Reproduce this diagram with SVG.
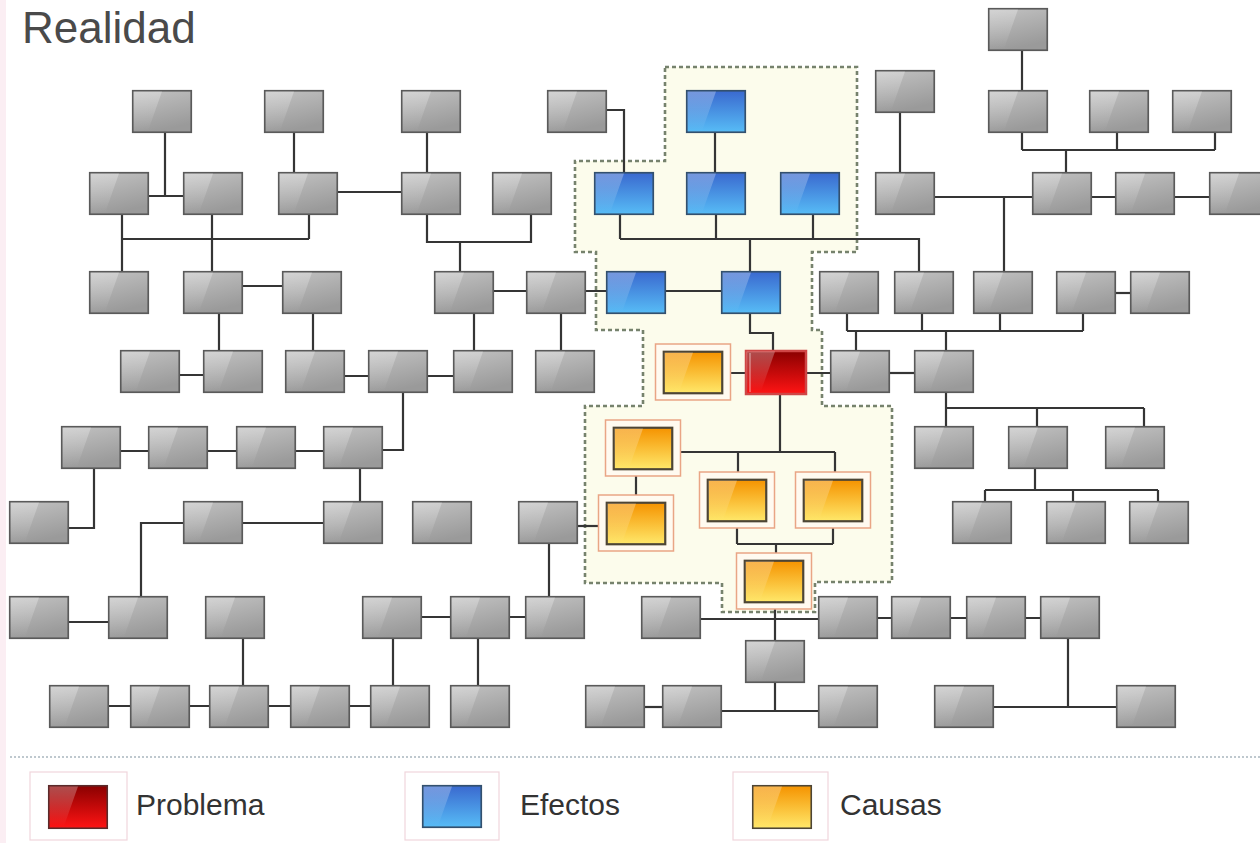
<svg xmlns="http://www.w3.org/2000/svg" width="1260" height="843" viewBox="0 0 1260 843">
<style>
.conn path{fill:none;stroke:#353535;stroke-width:2.2;}
.region{fill:#fcfcec;stroke:#76826d;stroke-width:2.6;stroke-dasharray:4 3;}
.title{font-family:"Liberation Sans","DejaVu Sans",sans-serif;font-size:44px;fill:#4a4a4a;}
.leg{font-family:"Liberation Sans","DejaVu Sans",sans-serif;font-size:30px;fill:#333;}
.legframe{fill:#fff;stroke:#f0d6dc;stroke-width:1.2;}
</style>
<defs>
<linearGradient id="gGray" x1="0" y1="0" x2="0.3" y2="1"><stop offset="0" stop-color="#c2c2c2"/><stop offset="1" stop-color="#9a9a9a"/></linearGradient>
<linearGradient id="gBlue" x1="0" y1="0" x2="0" y2="1"><stop offset="0" stop-color="#3a69cf"/><stop offset="1" stop-color="#57bcf6"/></linearGradient>
<linearGradient id="gOrange" x1="0" y1="0" x2="0" y2="1"><stop offset="0" stop-color="#f59300"/><stop offset="1" stop-color="#ffe86a"/></linearGradient>
<linearGradient id="gRed" x1="0" y1="0" x2="0" y2="1"><stop offset="0" stop-color="#8a0000"/><stop offset="1" stop-color="#ff1414"/></linearGradient>
<linearGradient id="gGloss" x1="0" y1="0" x2="0" y2="1"><stop offset="0" stop-color="#fff" stop-opacity="0.3"/><stop offset="1" stop-color="#fff" stop-opacity="0"/></linearGradient>
<path id="gloss" d="M1.5,1.5 H30 L16,41 H1.5 Z" fill="url(#gGloss)"/>
<g id="box-gray"><rect x="0.75" y="0.75" width="58.5" height="41.5" fill="url(#gGray)" stroke="#5a5a5a" stroke-width="1.7"/><use href="#gloss"/></g>
<g id="box-blue"><rect x="0.75" y="0.75" width="58.5" height="41.5" fill="url(#gBlue)" stroke="#33506e" stroke-width="1.7"/><use href="#gloss"/></g>
<g id="box-orange"><rect x="-7.5" y="-7" width="75" height="56" fill="#fffaf0" stroke="#e9a585" stroke-width="1.5"/><rect x="0.75" y="0.75" width="58.5" height="41.5" fill="url(#gOrange)" stroke="#4d4535" stroke-width="2.2"/><use href="#gloss"/></g>
<g id="box-red"><rect x="1" y="1" width="60" height="43" fill="url(#gRed)" stroke="#cf4646" stroke-width="2.5"/><path d="M5,3 V42" stroke="#ffffff" stroke-opacity="0.5" stroke-width="1.2"/><use href="#gloss"/></g>
<g id="leg-orange"><rect x="0.75" y="0.75" width="58.5" height="42.5" fill="url(#gOrange)" stroke="#4d4535" stroke-width="1.6"/><use href="#gloss"/></g>
<g id="leg-red"><rect x="0.75" y="0.75" width="58.5" height="42.5" fill="url(#gRed)" stroke="#5a2a2a" stroke-width="1.6"/><use href="#gloss"/></g>
</defs>

<rect x="0" y="0" width="1260" height="843" fill="#ffffff"/>
<rect x="0" y="0" width="6" height="843" fill="#fbeef3"/>

<text class="title" x="22" y="43">Realidad</text>

<path id="region" class="region" d="M665,67 H857 V252 H812 V330 H822 V406 H892 V582 H815 V612 H722 V583 H585 V406 H643 V330 H596 V252 H575 V161 H665 Z"/>

<g id="connectors" class="conn">
<path d="M1022,51 V90"/>
<path d="M1022,133 V150 M1117,133 V150 M1215,133 V150 M1022,150 H1215 M1066,150 V172"/>
<path d="M900,112 V172"/>
<path d="M935,197 H1032 M1004,197 V271"/>
<path d="M1092,197 H1115 M1175,197 H1209"/>
<path d="M847,314 V331 M922,314 V331 M1000,314 V331 M1083,314 V331 M847,331 H1083 M856,331 V350 M946,331 V350"/>
<path d="M1116,293 H1130"/>
<path d="M890,373 H914"/>
<path d="M946,393 V426 M946,408 H1144 M1037,408 V426 M1144,408 V426"/>
<path d="M1035,469 V490 M985,490 H1158 M985,490 V501 M1073,490 V501 M1158,490 V501"/>
<path d="M607,110 H624 V172"/>
<path d="M715,133 V172"/>
<path d="M620,215 V239 M716,215 V239 M813,215 V239 M620,239 H919 V271 M750,239 V271"/>
<path d="M666,291 H721 M586,291 H606"/>
<path d="M750,314 V333 H773 V350"/>
<path d="M723,373 H745 M807,373 H830"/>
<path d="M780,394 V452 M673,452 H835 M738,452 V479 M835,452 V479"/>
<path d="M636,469 V502"/>
<path d="M578,526 H606"/>
<path d="M737,522 V544 M833,522 V544 M737,544 H833 M776,544 V560"/>
<path d="M775,603 V640 M701,619 H818"/>
<path d="M878,618 H891 M951,618 H966 M1026,618 H1040"/>
<path d="M1068,639 V707 M994,707 H1116"/>
<path d="M775,683 V711 M722,711 H818"/>
<path d="M645,707 H662"/>
<path d="M549,544 V596"/>
<path d="M422,617 H450 M510,617 H525"/>
<path d="M393,639 V685 M478,639 V685"/>
<path d="M109,706 H130 M190,706 H209 M269,706 H290 M350,706 H370"/>
<path d="M243,639 V685"/>
<path d="M69,622 H108"/>
<path d="M243,523 H323 M183,523 H141 V596"/>
<path d="M360,469 V501"/>
<path d="M94,469 V528 H69"/>
<path d="M121,451 H148 M208,451 H236 M296,451 H323"/>
<path d="M403,393 V450 H383"/>
<path d="M180,375 H203 M345,376 H368 M428,376 H453"/>
<path d="M219,314 V350 M313,314 V350 M474,314 V350 M561,314 V350"/>
<path d="M243,286 H282 M494,291 H526"/>
<path d="M427,215 V242 H531 V215 M460,242 V271"/>
<path d="M122,215 V271 M212,215 V271 M309,215 V239 M122,239 H309"/>
<path d="M165,133 V196 M149,196 H183"/>
<path d="M294,133 V172 M427,133 V172 M338,192 H401"/>
</g>

<g id="n-a1"><use href="#box-gray" x="988" y="8"/></g>
<g id="n-b1"><use href="#box-gray" x="132" y="90"/></g>
<g id="n-b2"><use href="#box-gray" x="264" y="90"/></g>
<g id="n-b3"><use href="#box-gray" x="401" y="90"/></g>
<g id="n-b4"><use href="#box-gray" x="547" y="90"/></g>
<g id="n-b5"><use href="#box-blue" x="686" y="90"/></g>
<g id="n-b6"><use href="#box-gray" x="875" y="70"/></g>
<g id="n-b7"><use href="#box-gray" x="988" y="90"/></g>
<g id="n-b8"><use href="#box-gray" x="1089" y="90"/></g>
<g id="n-b9"><use href="#box-gray" x="1172" y="90"/></g>

<g id="n-c1"><use href="#box-gray" x="89" y="172"/></g>
<g id="n-c2"><use href="#box-gray" x="183" y="172"/></g>
<g id="n-c3"><use href="#box-gray" x="278" y="172"/></g>
<g id="n-c4"><use href="#box-gray" x="401" y="172"/></g>
<g id="n-c5"><use href="#box-gray" x="492" y="172"/></g>
<g id="n-c6"><use href="#box-blue" x="594" y="172"/></g>
<g id="n-c7"><use href="#box-blue" x="686" y="172"/></g>
<g id="n-c8"><use href="#box-blue" x="780" y="172"/></g>
<g id="n-c9"><use href="#box-gray" x="875" y="172"/></g>
<g id="n-c10"><use href="#box-gray" x="1032" y="172"/></g>
<g id="n-c11"><use href="#box-gray" x="1115" y="172"/></g>
<g id="n-c12"><use href="#box-gray" x="1209" y="172"/></g>

<g id="n-d1"><use href="#box-gray" x="89" y="271"/></g>
<g id="n-d2"><use href="#box-gray" x="183" y="271"/></g>
<g id="n-d3"><use href="#box-gray" x="282" y="271"/></g>
<g id="n-d4"><use href="#box-gray" x="434" y="271"/></g>
<g id="n-d5"><use href="#box-gray" x="526" y="271"/></g>
<g id="n-d6"><use href="#box-blue" x="606" y="271"/></g>
<g id="n-d7"><use href="#box-blue" x="721" y="271"/></g>
<g id="n-d8"><use href="#box-gray" x="819" y="271"/></g>
<g id="n-d9"><use href="#box-gray" x="894" y="271"/></g>
<g id="n-d10"><use href="#box-gray" x="973" y="271"/></g>
<g id="n-d11"><use href="#box-gray" x="1056" y="271"/></g>
<g id="n-d12"><use href="#box-gray" x="1130" y="271"/></g>

<g id="n-e1"><use href="#box-gray" x="120" y="350"/></g>
<g id="n-e2"><use href="#box-gray" x="203" y="350"/></g>
<g id="n-e3"><use href="#box-gray" x="285" y="350"/></g>
<g id="n-e4"><use href="#box-gray" x="368" y="350"/></g>
<g id="n-e5"><use href="#box-gray" x="453" y="350"/></g>
<g id="n-e6"><use href="#box-gray" x="535" y="350"/></g>
<g id="n-e7"><use href="#box-orange" x="663" y="351"/></g>
<g id="n-e8"><use href="#box-red" x="745" y="350"/></g>
<g id="n-e9"><use href="#box-gray" x="830" y="350"/></g>
<g id="n-e10"><use href="#box-gray" x="914" y="350"/></g>

<g id="n-f1"><use href="#box-gray" x="61" y="426"/></g>
<g id="n-f2"><use href="#box-gray" x="148" y="426"/></g>
<g id="n-f3"><use href="#box-gray" x="236" y="426"/></g>
<g id="n-f4"><use href="#box-gray" x="323" y="426"/></g>
<g id="n-f5"><use href="#box-orange" x="613" y="427"/></g>
<g id="n-f6"><use href="#box-gray" x="914" y="426"/></g>
<g id="n-f7"><use href="#box-gray" x="1008" y="426"/></g>
<g id="n-f8"><use href="#box-gray" x="1105" y="426"/></g>

<g id="n-g1"><use href="#box-gray" x="9" y="501"/></g>
<g id="n-g2"><use href="#box-gray" x="183" y="501"/></g>
<g id="n-g3"><use href="#box-gray" x="323" y="501"/></g>
<g id="n-g4"><use href="#box-gray" x="412" y="501"/></g>
<g id="n-g5"><use href="#box-gray" x="518" y="501"/></g>
<g id="n-g6"><use href="#box-orange" x="606" y="502"/></g>
<g id="n-g7"><use href="#box-orange" x="707" y="479"/></g>
<g id="n-g8"><use href="#box-orange" x="803" y="479"/></g>
<g id="n-g9"><use href="#box-gray" x="952" y="501"/></g>
<g id="n-g10"><use href="#box-gray" x="1046" y="501"/></g>
<g id="n-g11"><use href="#box-gray" x="1129" y="501"/></g>

<g id="n-h0"><use href="#box-orange" x="744" y="560"/></g>

<g id="n-h1"><use href="#box-gray" x="9" y="596"/></g>
<g id="n-h2"><use href="#box-gray" x="108" y="596"/></g>
<g id="n-h3"><use href="#box-gray" x="205" y="596"/></g>
<g id="n-h4"><use href="#box-gray" x="362" y="596"/></g>
<g id="n-h5"><use href="#box-gray" x="450" y="596"/></g>
<g id="n-h6"><use href="#box-gray" x="525" y="596"/></g>
<g id="n-h7"><use href="#box-gray" x="641" y="596"/></g>
<g id="n-h8"><use href="#box-gray" x="818" y="596"/></g>
<g id="n-h9"><use href="#box-gray" x="891" y="596"/></g>
<g id="n-h10"><use href="#box-gray" x="966" y="596"/></g>
<g id="n-h11"><use href="#box-gray" x="1040" y="596"/></g>

<g id="n-i1"><use href="#box-gray" x="745" y="640"/></g>

<g id="n-j1"><use href="#box-gray" x="49" y="685"/></g>
<g id="n-j2"><use href="#box-gray" x="130" y="685"/></g>
<g id="n-j3"><use href="#box-gray" x="209" y="685"/></g>
<g id="n-j4"><use href="#box-gray" x="290" y="685"/></g>
<g id="n-j5"><use href="#box-gray" x="370" y="685"/></g>
<g id="n-j6"><use href="#box-gray" x="450" y="685"/></g>
<g id="n-j7"><use href="#box-gray" x="585" y="685"/></g>
<g id="n-j8"><use href="#box-gray" x="662" y="685"/></g>
<g id="n-j9"><use href="#box-gray" x="818" y="685"/></g>
<g id="n-j10"><use href="#box-gray" x="934" y="685"/></g>
<g id="n-j11"><use href="#box-gray" x="1116" y="685"/></g>

<g id="legend">
<path d="M10,757 H1260" stroke="#a9b7bf" stroke-width="1.5" stroke-dasharray="2 2" fill="none"/>
<g id="leg-problema">
<rect class="legframe" x="30" y="772" width="97" height="68"/>
<use href="#leg-red" x="48" y="785"/>
<text class="leg" x="136" y="815">Problema</text>
</g>
<g id="leg-efectos">
<rect class="legframe" x="405" y="772" width="94" height="68"/>
<use href="#box-blue" x="422" y="785"/>
<text class="leg" x="520" y="815">Efectos</text>
</g>
<g id="leg-causas">
<rect class="legframe" x="733" y="772" width="95" height="68"/>
<use href="#leg-orange" x="752" y="785"/>
<text class="leg" x="840" y="815">Causas</text>
</g>
</g>
</svg>
